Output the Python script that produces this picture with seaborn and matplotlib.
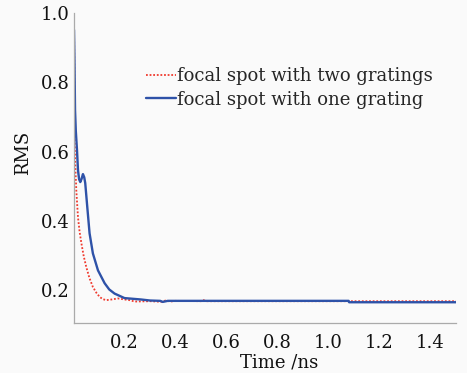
import numpy as np
import pandas as pd
import matplotlib
matplotlib.use("Agg")
import matplotlib.pyplot as plt
import seaborn as sns

# Data
t_two = [0.0, 0.002, 0.003, 0.004, 0.005, 0.007, 0.011, 0.0176, 0.024, 0.031, 0.04, 0.05, 0.062, 0.076, 0.09,
         0.103, 0.115, 0.128, 0.15, 0.174, 0.2, 0.22, 0.24, 0.3, 0.35, 0.36, 0.38, 0.4, 0.5, 0.51, 0.52,
         0.7, 1.0, 1.08, 1.2, 1.5]
rms_two = [0.99, 0.98, 0.85, 0.72, 0.62, 0.56, 0.488, 0.41, 0.368, 0.335, 0.298, 0.267, 0.236, 0.209, 0.192,
           0.18, 0.174, 0.171, 0.173, 0.176, 0.173, 0.171, 0.167, 0.168, 0.166, 0.17, 0.167, 0.169, 0.168,
           0.171, 0.168, 0.168, 0.168, 0.168, 0.168, 0.168]
t_one = [0.0, 0.002, 0.004, 0.006, 0.009, 0.0137, 0.0176, 0.022, 0.0266, 0.032, 0.037, 0.042, 0.046, 0.054,
         0.063, 0.076, 0.096, 0.122, 0.14, 0.161, 0.2, 0.264, 0.3, 0.34, 0.35, 0.37, 0.6, 1.0, 1.079, 1.081, 1.5]
rms_one = [0.96, 0.95, 0.85, 0.72, 0.66, 0.604, 0.546, 0.52, 0.512, 0.522, 0.535, 0.526, 0.509, 0.44,
           0.364, 0.306, 0.257, 0.22, 0.202, 0.19, 0.177, 0.173, 0.17, 0.169, 0.166, 0.169, 0.169, 0.169,
           0.169, 0.165, 0.165]
label_two = "focal spot with two gratings"
label_one = "focal spot with one grating"

df_two = pd.DataFrame({"t": t_two, "rms": rms_two})
df_one = pd.DataFrame({"t": t_one, "rms": rms_one})

sns.set_style("white")
plt.rcParams["font.family"] = ["DejaVu Serif"]

fig = plt.figure(figsize=(4.67, 3.73), dpi=100)
fig.patch.set_facecolor("#fafafa")
ax = fig.add_axes([0.1574, 0.134, 0.8190, 0.831])
ax.set_facecolor("#fafafa")

sns.lineplot(data=df_two, x="t", y="rms", ax=ax, color="#f03a2e", linestyle=(0, (1, 1)),
             linewidth=1.3, label=label_two)
sns.lineplot(data=df_one, x="t", y="rms", ax=ax, color="#2e52a8", linewidth=1.7, label=label_one)

ax.set_xlim(0, 1.5)
ax.set_ylim(0.105, 1.0)
ax.set_xticks([0.2, 0.4, 0.6, 0.8, 1.0, 1.2, 1.4])
ax.set_xticklabels(["0.2", "0.4", "0.6", "0.8", "1.0", "1.2", "1.4"])
ax.set_yticks([0.2, 0.3, 0.4, 0.5, 0.6, 0.7, 0.8, 0.9, 1.0])
ax.set_yticklabels(["0.2", "", "0.4", "", "0.6", "", "0.8", "", "1.0"])
ax.tick_params(direction="in", length=4, width=0.8, color="#aaaaaa", labelsize=13, labelcolor="#111111")
ax.tick_params(axis="y", pad=3)
ax.tick_params(axis="x", pad=8)
for s in ["top", "right"]:
    ax.spines[s].set_visible(False)
for s in ["left", "bottom"]:
    ax.spines[s].set_color("#aaaaaa")
    ax.spines[s].set_linewidth(0.9)

ax.set_xlabel("Time /ns", fontsize=13, color="#111111")
ax.set_ylabel("RMS", fontsize=13, color="#111111")
ax.xaxis.set_label_coords(0.537, -0.097)
ax.yaxis.set_label_coords(-0.108, 0.55)

ax.legend(loc="upper left", bbox_to_anchor=(0.19, 0.825), frameon=False, fontsize=13,
          handlelength=1.65, handletextpad=0.05, labelspacing=0.3, borderaxespad=0, borderpad=0)

fig.savefig("out.png", dpi=100, facecolor=fig.get_facecolor())
